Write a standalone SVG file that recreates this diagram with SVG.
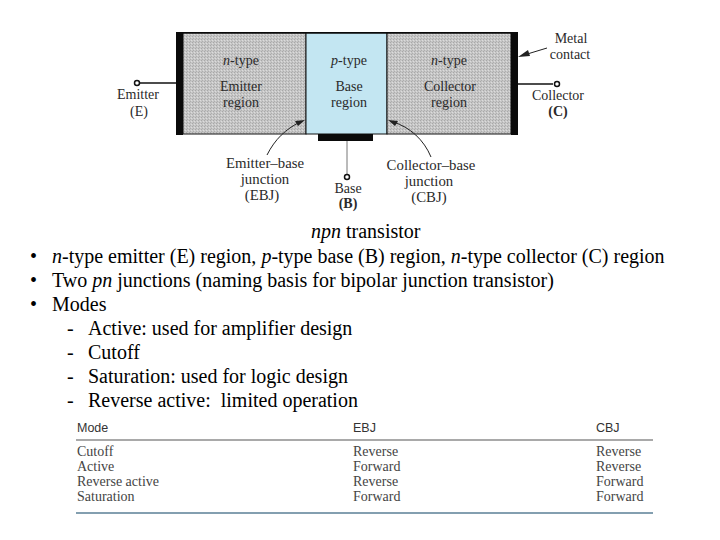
<svg xmlns="http://www.w3.org/2000/svg" width="720" height="540" viewBox="0 0 720 540">
<style>
.s{font-family:"Liberation Serif","Times New Roman",serif;fill:#2a2a2a;text-anchor:middle;font-size:14px}
.j{font-size:14.800px}
.b{font-family:"Liberation Serif","Times New Roman",serif;fill:#000;font-size:20px}
.t{font-family:"Liberation Serif","Times New Roman",serif;fill:#444;font-size:14px}
.h{font-family:"Liberation Sans",Arial,sans-serif;fill:#333;font-size:12.500px}
.c{fill:none;stroke:#222;stroke-width:1}
.w{fill:none;stroke:#111;stroke-width:1.5}
.o{fill:#fff;stroke:#111;stroke-width:1.5}
.a{fill:#222;stroke:none}
.r{stroke:#111;stroke-width:1}
</style>
<defs>
<pattern id="grain" width="3" height="3" patternUnits="userSpaceOnUse">
<rect width="3" height="3" fill="#c6c6c6"/>
<rect x="0" y="0" width="1" height="1" fill="#a8a8a8"/>
<rect x="2" y="1" width="1" height="1" fill="#dcdcdc"/>
<rect x="1" y="2" width="1" height="1" fill="#aeaeae"/>
</pattern>
</defs>
<rect width="720" height="540" fill="#fff"/>
<g id="emitter-region">
<rect class="r" x="183" y="33" width="123" height="101" fill="url(#grain)"/>
<text class="s" x="241" y="65"><tspan font-style="italic">n</tspan>-type</text>
<text class="s" x="241" y="91">Emitter</text>
<text class="s" x="241" y="107">region</text>
</g>
<g id="base-region">
<rect class="r" x="306" y="33" width="81" height="101" fill="#c3e6f2"/>
<text class="s" x="349" y="65"><tspan font-style="italic">p</tspan>-type</text>
<text class="s" x="349" y="91">Base</text>
<text class="s" x="349" y="107">region</text>
</g>
<g id="collector-region">
<rect class="r" x="387" y="33" width="124" height="101" fill="url(#grain)"/>
<text class="s" x="449" y="65"><tspan font-style="italic">n</tspan>-type</text>
<text class="s" x="450" y="91">Collector</text>
<text class="s" x="449" y="107">region</text>
</g>
<g id="contacts" fill="#0a0a0a">
<rect x="176" y="32" width="7" height="103"/>
<rect x="511" y="32" width="7" height="103"/>
<rect x="318" y="134" width="55" height="7"/>
<rect x="176" y="32" width="342" height="1.5"/>
</g>
<g id="connectors">
<path class="w" d="M139 83H176"/>
<path class="w" d="M518 84H553"/>
<path d="M347 141V174" fill="none" stroke="#777" stroke-width="1"/>
<path class="c" d="M267 155C275 139 286 129 300 122"/>
<path class="a" d="M305 120L295 121L298 126Z"/>
<path class="c" d="M431 157C424 140 410 127 393 122"/>
<path class="a" d="M388 120L398 121L395 126Z"/>
<path class="c" d="M524 55L547 48"/>
<path class="a" d="M518 57L528 50L530 56Z"/>
</g>
<g id="emitter-terminal">
<circle class="o" cx="137" cy="83" r="2.500"/>
<text class="s" x="138" y="99">Emitter</text>
<text class="s" x="139" y="116">(E)</text>
</g>
<g id="collector-terminal">
<circle class="o" cx="557" cy="84" r="2.500"/>
<text class="s" x="558" y="100">Collector</text>
<text class="s" x="558" y="116" font-weight="bold">(C)</text>
</g>
<g id="base-terminal">
<circle class="o" cx="347" cy="177" r="2.500"/>
<text class="s" x="348" y="193">Base</text>
<text class="s" x="348" y="208" font-weight="bold">(B)</text>
</g>
<g id="metal-contact-label">
<text class="s" x="571" y="43">Metal</text>
<text class="s" x="570" y="59">contact</text>
</g>
<g id="ebj-label">
<text class="s j" x="265" y="168">Emitter–base</text>
<text class="s j" x="265" y="184">junction</text>
<text class="s j" x="262" y="200">(EBJ)</text>
</g>
<g id="cbj-label">
<text class="s j" x="431" y="170">Collector–base</text>
<text class="s j" x="429" y="186">junction</text>
<text class="s j" x="429" y="202">(CBJ)</text>
</g>
<g id="body-text">
<text class="b" x="311" y="238"><tspan font-style="italic">npn</tspan> transistor</text>
<text class="b" x="30" y="263">•</text>
<text class="b" x="52" y="263"><tspan font-style="italic">n</tspan>-type emitter (E) region, <tspan font-style="italic">p</tspan>-type base (B) region, <tspan font-style="italic">n</tspan>-type collector (C) region</text>
<text class="b" x="30" y="287">•</text>
<text class="b" x="52" y="287">Two <tspan font-style="italic">pn</tspan> junctions (naming basis for bipolar junction transistor)</text>
<text class="b" x="30" y="311">•</text>
<text class="b" x="52" y="311">Modes</text>
<text class="b" x="67" y="335">-</text>
<text class="b" x="88" y="335">Active: used for amplifier design</text>
<text class="b" x="67" y="359">-</text>
<text class="b" x="88" y="359">Cutoff</text>
<text class="b" x="67" y="383">-</text>
<text class="b" x="88" y="383">Saturation: used for logic design</text>
<text class="b" x="67" y="407">-</text>
<text class="b" x="88" y="407" xml:space="preserve">Reverse active:  limited operation</text>
</g>
<g id="mode-table">
<text class="h" x="77" y="432">Mode</text>
<text class="h" x="353" y="432">EBJ</text>
<text class="h" x="596" y="432">CBJ</text>
<path d="M76 440H653" stroke="#555" stroke-width="1.200" fill="none"/>
<text class="t" x="77" y="456">Cutoff</text><text class="t" x="353" y="456">Reverse</text><text class="t" x="596" y="456">Reverse</text>
<text class="t" x="77" y="471">Active</text><text class="t" x="353" y="471">Forward</text><text class="t" x="596" y="471">Reverse</text>
<text class="t" x="77" y="486">Reverse active</text><text class="t" x="353" y="486">Reverse</text><text class="t" x="596" y="486">Forward</text>
<text class="t" x="77" y="501">Saturation</text><text class="t" x="353" y="501">Forward</text><text class="t" x="596" y="501">Forward</text>
<path d="M76 513H653" stroke="#5a7f96" stroke-width="1.500" fill="none"/>
</g>
</svg>
